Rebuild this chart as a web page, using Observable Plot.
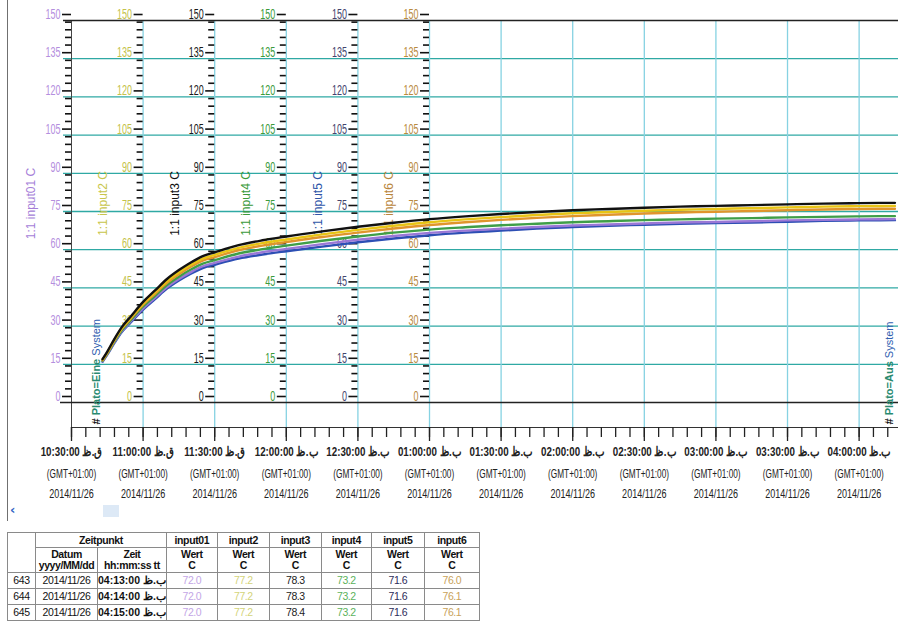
<!DOCTYPE html>
<html>
<head>
<meta charset="utf-8">
<script src="https://cdn.jsdelivr.net/npm/d3@7"></script>
<script src="https://cdn.jsdelivr.net/npm/@observablehq/plot@0.6"></script>
<style>
  body { margin: 0; background: #fff; }
  #wrap { position: relative; width: 898px; height: 636px; overflow: hidden; background: #fff;
          font-family: "Liberation Sans", Arial, sans-serif; }
  #frame { position: absolute; left: 7px; top: 0; width: 1px; height: 521px; background: #707070; }
  #chart { position: absolute; left: 0; top: 0; }
  #scrollLeft { position: absolute; left: 10px; top: 502px; color: #2f62c4; font: bold 13px "DejaVu Sans", sans-serif; }
  #thumb { position: absolute; left: 103px; top: 505px; width: 16px; height: 12px; background: #dde9f6; }
  #tbl { position: absolute; left: 7px; top: 532px; border-collapse: collapse; table-layout: fixed; }
  #tbl td, #tbl th { border: 1px solid #8a8a8a; padding: 0; text-align: center; font-size: 10.5px; line-height: 11px;
                     letter-spacing: -0.4px; font-family: "Liberation Sans", Arial, sans-serif; color: #111;
                     overflow: hidden; white-space: nowrap; }
  #tbl th { font-weight: bold; }
  #tbl tr.h1 th { height: 14px; }
  #tbl tr.h2 th { height: 24px; }
  #tbl tr.d td { height: 15px; }
  #tbl td.time { font-weight: bold; }
</style>
</head>
<body>
<div id="wrap">
  <div id="chart"></div>
  <div id="frame"></div>
  <div id="scrollLeft">&lsaquo;</div>
  <div id="thumb"></div>
  <div id="tblHost"></div>
</div>
<script>
// ---------------- data ----------------
const seriesNames = ["input01", "input2", "input3", "input4", "input5", "input6"];
const lineColors = ["#9a78d6", "#e8c414", "#111111", "#3f9e48", "#2d4fb4", "#e0952c"];
const axisLabelColors = ["#b48ede", "#c4c24a", "#1a1a1a", "#3b9b3b", "#44446e", "#b98a3e"];
const axisTitleColors = ["#a57ed8", "#c8c64c", "#111111", "#3a9a3a", "#2f56a8", "#b8863c"];
const axisTitles = ["1:1 input01 C", "1:1 input2 C", "1:1 input3 C", "1:1 input4 C", "1:1 input5 C", "1:1 input6 C"];
const axisTimes = ["10:30", "11:00", "11:30", "12:00", "12:30", "13:00"];

const times = ["10:43", "10:45", "10:48", "10:51", "10:55", "11:00", "11:05", "11:10", "11:15", "11:20", "11:25", "11:30",
               "11:40", "11:50", "12:00", "12:15", "12:30", "12:45", "13:00", "13:15", "13:30", "13:45", "14:00", "14:15",
               "14:30", "14:45", "15:00", "15:15", "15:30", "15:45", "16:00", "16:15"];
const input01 = [16.2, 19.0, 23.7, 27.9, 32.0, 37.0, 41.1, 45.3, 48.5, 51.2, 53.5, 54.8, 57.3, 59.0, 60.3, 62.2,
                 63.9, 65.4, 66.6, 67.5, 68.2, 68.9, 69.5, 69.9, 70.3, 70.7, 70.9, 71.2, 71.5, 71.7, 71.9, 72.0];
const input2  = [16.8, 19.7, 24.7, 29.1, 33.5, 38.9, 43.3, 47.7, 51.1, 54.1, 56.5, 58.0, 60.7, 62.6, 64.0, 66.0,
                 67.8, 69.4, 70.8, 71.9, 72.8, 73.6, 74.3, 74.8, 75.3, 75.7, 76.0, 76.3, 76.6, 76.9, 77.1, 77.2];
const input3  = [17.0, 20.0, 25.0, 29.5, 34.0, 39.5, 44.0, 48.5, 52.0, 55.0, 57.5, 59.0, 61.8, 63.7, 65.2, 67.2,
                 69.0, 70.6, 72.0, 73.1, 74.0, 74.8, 75.5, 76.0, 76.5, 76.9, 77.2, 77.5, 77.8, 78.1, 78.3, 78.4];
const input4  = [16.4, 19.2, 24.0, 28.3, 32.5, 37.7, 41.9, 46.1, 49.4, 52.2, 54.5, 55.9, 58.5, 60.2, 61.6, 63.5,
                 65.2, 66.7, 67.9, 68.8, 69.6, 70.2, 70.8, 71.2, 71.6, 71.9, 72.2, 72.4, 72.7, 72.9, 73.1, 73.2];
const input5  = [16.0, 18.8, 23.4, 27.6, 31.6, 36.5, 40.6, 44.7, 47.9, 50.6, 52.8, 54.1, 56.5, 58.1, 59.4, 61.2,
                 62.9, 64.4, 65.7, 66.7, 67.5, 68.3, 68.9, 69.4, 69.8, 70.2, 70.5, 70.7, 71.0, 71.3, 71.5, 71.6];
const input6  = [16.6, 19.5, 24.4, 28.8, 33.1, 38.4, 42.7, 47.0, 50.4, 53.3, 55.7, 57.1, 59.8, 61.6, 63.0, 65.0,
                 66.7, 68.3, 69.7, 70.8, 71.7, 72.5, 73.2, 73.7, 74.2, 74.6, 74.9, 75.2, 75.5, 75.8, 76.0, 76.1];

const yTickValues = [0, 15, 30, 45, 60, 75, 90, 105, 120, 135, 150];
const yMinorValues = d3.range(0, 151, 3);
const xTickTimes = ["10:30", "11:00", "11:30", "12:00", "12:30", "13:00", "13:30", "14:00", "14:30", "15:00", "15:30", "16:00"];
const xTickLabels = ["10:30:00 ق.ظ", "11:00:00 ق.ظ", "11:30:00 ق.ظ", "12:00:00 ب.ظ", "12:30:00 ب.ظ", "01:00:00 ب.ظ",
                     "01:30:00 ب.ظ", "02:00:00 ب.ظ", "02:30:00 ب.ظ", "03:00:00 ب.ظ", "03:30:00 ب.ظ", "04:00:00 ب.ظ"];
const xTickZone = "(GMT+01:00)";
const xTickDate = "2014/11/26";
const markerTimes = ["10:42", "16:14"];
const markerLabels = ["# Plato=Eine System", "# Plato=Aus System"];

const tableRowNums = ["643", "644", "645"];
const tableDates = ["2014/11/26", "2014/11/26", "2014/11/26"];
const tableTimes = ["04:13:00 ب.ظ", "04:14:00 ب.ظ", "04:15:00 ب.ظ"];
const tableInput01 = ["72.0", "72.0", "72.0"];
const tableInput2 = ["77.2", "77.2", "77.2"];
const tableInput3 = ["78.3", "78.3", "78.4"];
const tableInput4 = ["73.2", "73.2", "73.2"];
const tableInput5 = ["71.6", "71.6", "71.6"];
const tableInput6 = ["76.0", "76.1", "76.1"];
const tableValueColors = ["#c3a6e6", "#d4d47a", "#222222", "#5cb25c", "#2c2c5a", "#c9a25a"];

// ---------------- helpers ----------------
const toMin = s => { const [h, m] = s.split(":").map(Number); return h * 60 + m; };
const seriesValues = [input01, input2, input3, input4, input5, input6];
const rows = [];
seriesNames.forEach((name, i) => times.forEach((t, j) => rows.push({series: name, t: toMin(t), v: seriesValues[i][j]})));

const xStart = toMin(xTickTimes[0]);
const xTicks = xTickTimes.map((t, i) => ({t: toMin(t), label: xTickLabels[i]}));
const xMinor = d3.range(xStart, 977, 6);

const font = "'Liberation Sans',Arial,sans-serif";
const marks = [];

// gridlines
marks.push(Plot.ruleY(yTickValues.filter(v => v > 0 && v < 150), {stroke: "#2fa9a4", strokeWidth: 1.3, insetLeft: -8}));
marks.push(Plot.ruleX(xTicks.slice(1), {x: "t", stroke: "#86d2e2", strokeWidth: 1.3, insetBottom: -25}));
marks.push(Plot.ruleX([xStart], {stroke: "#444", strokeWidth: 1, insetBottom: -25}));
marks.push(Plot.ruleY([150], {stroke: "#222", strokeWidth: 1.3, insetLeft: -8}));
marks.push(Plot.ruleY([0], {stroke: "#222", strokeWidth: 1.6, insetLeft: -11}));

// x axis (below the frame)
marks.push(Plot.ruleY([0], {stroke: "#333", strokeWidth: 1.2, dy: 25}));
marks.push(Plot.ruleX(xMinor, {stroke: "#222", strokeWidth: 1.3, insetTop: 407, insetBottom: -35}));
marks.push(Plot.ruleX(xTicks, {x: "t", stroke: "#222", strokeWidth: 1.3, insetTop: 407, insetBottom: -39}));
marks.push(Plot.text(xTicks, {x: "t", text: "label", frameAnchor: "bottom", dy: 53, fontSize: 12.5, fontWeight: "bold",
  fill: "#222", fontFamily: font, ariaDescription: "condense:0.78"}));
marks.push(Plot.text(xTicks, {x: "t", text: () => xTickZone, frameAnchor: "bottom", dy: 75, fontSize: 12.5,
  fill: "#222", fontFamily: font, ariaDescription: "condense:0.66"}));
marks.push(Plot.text(xTicks, {x: "t", text: () => xTickDate, frameAnchor: "bottom", dy: 95, fontSize: 12.5,
  fill: "#222", fontFamily: font, ariaDescription: "condense:0.72"}));

// six y axes
axisTimes.forEach((at, i) => {
  const ax = toMin(at);
  const minor = yMinorValues.filter(v => v % 15 !== 0).map(v => ({ax, v}));
  const major = yTickValues.map(v => ({ax, v}));
  marks.push(Plot.ruleY(minor, {y: "v", x1: "ax", x2: "ax", insetLeft: -6, dy: -6, stroke: "#111", strokeWidth: 1.6}));
  marks.push(Plot.ruleY(major, {y: "v", x1: "ax", x2: "ax", insetLeft: -9, dy: -6, stroke: "#111", strokeWidth: 1.6}));
  marks.push(Plot.text(major, {x: "ax", y: "v", text: d => String(d.v), textAnchor: "end", dx: -11, dy: -6,
    fill: axisLabelColors[i], fontSize: 14, fontFamily: font, ariaDescription: "condense:0.64"}));
  marks.push(Plot.text([ax], {x: d => d, frameAnchor: "middle", text: () => axisTitles[i], rotate: -90, dx: -40, dy: -8,
    fill: axisTitleColors[i], fontSize: 12, fontFamily: font}));
});

// lines (drawn bottom to top)
[4, 0, 3, 5, 1, 2].forEach(i => {
  marks.push(Plot.line(rows.filter(r => r.series === seriesNames[i]), {x: "t", y: "v", stroke: lineColors[i],
    strokeWidth: 2.4, curve: "monotone-x"}));
});

// event markers
marks.push(Plot.text(markerTimes.map((t, i) => ({t: toMin(t), label: markerLabels[i]})), {
  x: "t", text: "label", frameAnchor: "bottom", rotate: -90, textAnchor: "start", dy: 22, fontSize: 11,
  fill: "#2f62a8", fontFamily: font}));

const chart = Plot.plot({
  width: 898, height: 505,
  marginLeft: 71, marginRight: 0, marginTop: 20, marginBottom: 103,
  x: {domain: [xStart, 976.5], axis: null},
  y: {domain: [0, 150], axis: null},
  style: {fontFamily: font, background: "transparent", overflow: "visible"},
  marks
});
document.getElementById("chart").appendChild(chart);

// condense the narrow-font texts
d3.select(chart).selectAll("g[aria-description] text").each(function() {
  const g = this.closest("g[aria-description]");
  const desc = g.getAttribute("aria-description") || "";
  if (!desc.startsWith("condense:")) return;
  const f = +desc.split(":")[1];
  const w = this.getComputedTextLength();
  this.setAttribute("textLength", (w * f).toFixed(1));
  this.setAttribute("lengthAdjust", "spacingAndGlyphs");
});

// color the marker labels in parts
d3.select(chart).selectAll("text").filter(function() { return this.textContent.includes("Plato"); }).each(function() {
  const parts = this.textContent.split(" ");
  const sel = d3.select(this); sel.text(null);
  sel.append("tspan").attr("fill", "#111").attr("font-weight", "bold").text(parts[0] + " ");
  sel.append("tspan").attr("fill", "#2a8a70").attr("font-weight", "bold").text(parts[1] + " ");
  sel.append("tspan").attr("fill", "#3060b0").text(parts.slice(2).join(" "));
});

// ---------------- table ----------------
const colWidths = [28, 62, 60, 51, 52, 52, 50, 53, 55];
const tableValues = [tableInput01, tableInput2, tableInput3, tableInput4, tableInput5, tableInput6];
let html = '<table id="tbl"><colgroup>' + colWidths.map(w => `<col style="width:${w}px">`).join("") + '</colgroup>';
html += '<tr class="h1"><th rowspan="2"></th><th colspan="2">Zeitpunkt</th>' + seriesNames.map(n => `<th>${n}</th>`).join("") + '</tr>';
html += '<tr class="h2"><th>Datum<br>yyyy/MM/dd</th><th>Zeit<br>hh:mm:ss tt</th>' + seriesNames.map(() => '<th>Wert<br>C</th>').join("") + '</tr>';
tableRowNums.forEach((rn, r) => {
  html += `<tr class="d"><td>${rn}</td><td>${tableDates[r]}</td><td class="time">${tableTimes[r]}</td>` +
    tableValues.map((vals, i) => `<td style="color:${tableValueColors[i]}">${vals[r]}</td>`).join("") + '</tr>';
});
html += '</table>';
document.getElementById("tblHost").innerHTML = html;
</script>
</body>
</html>
